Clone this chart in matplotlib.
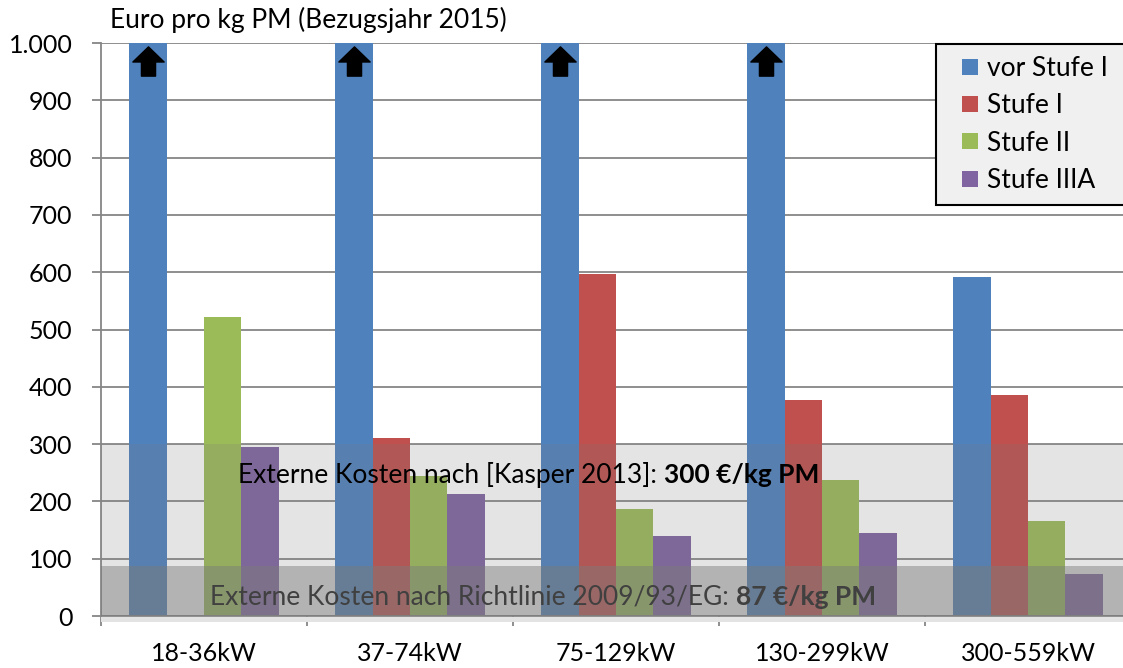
import matplotlib
matplotlib.use("Agg")
import matplotlib.pyplot as plt
import numpy as np
from matplotlib.path import Path
from matplotlib.patches import Rectangle
from matplotlib.lines import Line2D
import matplotlib.transforms as mtransforms

plt.rcParams['font.family'] = ['Lato', 'DejaVu Sans']

categories = ["18-36kW", "37-74kW", "75-129kW", "130-299kW", "300-559kW"]
series_names = ["vor Stufe I", "Stufe I", "Stufe II", "Stufe IIIA"]
vor_stufe_1 = [1000, 1000, 1000, 1000, 592]   # first four exceed the axis (arrows)
exceeds_axis = [True, True, True, True, False]
stufe_1 = [np.nan, 310, 596, 377, 386]
stufe_2 = [522, 245, 187, 237, 165]
stufe_3a = [295, 213, 140, 145, 73]
y_ticks = [0, 100, 200, 300, 400, 500, 600, 700, 800, 900, 1000]
y_tick_labels = ["0", "100", "200", "300", "400", "500", "600", "700", "800", "900", "1.000"]
kasper_value = 300
richtlinie_value = 87

colors = ["#4F81BD", "#C0504D", "#9BBB59", "#8064A2"]
FS = 19
TFS = 18

fig = plt.figure(figsize=(11.23, 6.68), dpi=100)
W, H = 1123, 668
ax = fig.add_axes([101 / W, 1 - 616 / H, (1131 - 101) / W, (616 - 43) / H])

x = np.arange(len(categories))
bw = 1 / 5.5
all_series = [vor_stufe_1, stufe_1, stufe_2, stufe_3a]
for k, (vals, name, c) in enumerate(zip(all_series, series_names, colors)):
    ax.bar(x + (k - 1.5) * bw, vals, width=bw, color=c, label=name, zorder=2)

# bands
ax.axhspan(richtlinie_value, kasper_value, color=(0.47, 0.47, 0.47), alpha=0.2, lw=0, zorder=3)
ax.axhspan(0, richtlinie_value, color=(0.48, 0.48, 0.48), alpha=0.57, lw=0, zorder=3)

# floor strip below the axis
trans = mtransforms.blended_transform_factory(ax.transAxes, fig.transFigure)
ax.add_patch(Rectangle((0, 1 - 622 / H), 1, 5 / H, transform=trans, color="#e3e3e3",
                       lw=0, clip_on=False, zorder=1))

# arrows on clipped bars
s = 1 / 31.0
verts = [(0, 14.5), (15.5, -0.5), (7, -0.5), (7, -14.5), (-7, -14.5), (-7, -0.5), (-15.5, -0.5), (0, 14.5)]
verts = [(a * s, b * s) for a, b in verts]
codes = [Path.MOVETO] + [Path.LINETO] * 6 + [Path.CLOSEPOLY]
arrow = Path(verts, codes)
for i, ex in enumerate(exceeds_axis):
    if ex:
        ax.plot([x[i] - 1.5 * bw], [968], marker=arrow, markersize=22.5, color="black",
                linestyle="none", zorder=5, clip_on=False)

ax.set_xlim(-0.5, len(categories) - 0.5)
ax.set_ylim(0, 1000)
ax.set_yticks(y_ticks)
ax.set_yticklabels(y_tick_labels, fontsize=TFS)
ax.set_xticks(x)
ax.set_xticklabels(categories, fontsize=TFS)
ax.set_xticks(np.arange(len(categories) + 1) - 0.5, minor=True)
ax.tick_params(axis='x', which='major', length=0, pad=19)
ax.tick_params(axis='x', which='minor', length=7, width=1.3, color="#868686")
ax.tick_params(axis='y', length=6.5, width=1.3, color="#868686", pad=14)
ax.grid(axis='y', color="#868686", lw=1.3, zorder=0)
ax.set_axisbelow(True)
for sp in ['top', 'right']:
    ax.spines[sp].set_visible(False)
for sp in ['left', 'bottom']:
    ax.spines[sp].set_color("#868686")
    ax.spines[sp].set_linewidth(1.3)

# band texts
t1 = ax.text(0.165, 246, "Externe Kosten nach [Kasper 2013]: ", fontsize=FS, va='center', ha='left',
             color="black", zorder=6)
ax.annotate(f"{kasper_value} €/kg PM", xy=(1, 0.5), xycoords=t1, va='center', ha='left',
            fontsize=FS, fontweight='bold', color="black", zorder=6)
t2 = ax.text(0.03, 33, "Externe Kosten nach Richtlinie 2009/93/EG: ", fontsize=FS, va='center', ha='left',
             color="#404040", zorder=6)
ax.annotate(f"{richtlinie_value} €/kg PM", xy=(1, 0.5), xycoords=t2, va='center', ha='left',
            fontsize=FS, fontweight='bold', color="#404040", zorder=6)

fig.text(110 / W, 1 - 20 / H, "Euro pro kg PM (Bezugsjahr 2015)", fontsize=FS, va='center', ha='left')

handles = [Line2D([], [], marker='s', markersize=11.5, linestyle='none', color=c,
                  markeredgewidth=0) for c in colors]
leg = fig.legend(handles, series_names, loc='upper left',
                 bbox_to_anchor=(936 / W, 1 - 205 / H, 200 / W, 161 / H), mode='expand',
                 borderaxespad=0, fontsize=FS, frameon=True, fancybox=False,
                 handlelength=1.7, handletextpad=-0.2, labelspacing=0.47,
                 borderpad=0.45)
leg.get_frame().set_facecolor("#f0f0f0")
leg.get_frame().set_edgecolor("black")
leg.get_frame().set_linewidth(1.5)
leg.get_frame().set_alpha(1)

fig.savefig("out.png", dpi=100)
